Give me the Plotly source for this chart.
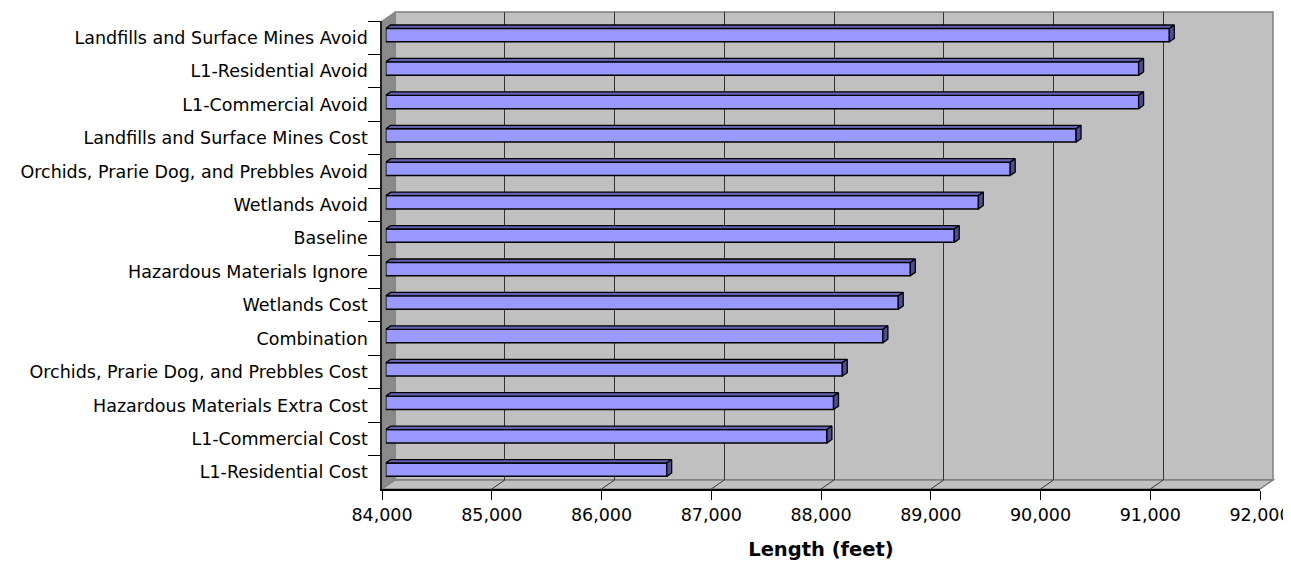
import plotly.graph_objects as go

# ---------------- data ----------------
categories = [
    "Landfills and Surface Mines Avoid",
    "L1-Residential Avoid",
    "L1-Commercial Avoid",
    "Landfills and Surface Mines Cost",
    "Orchids, Prarie Dog, and Prebbles Avoid",
    "Wetlands Avoid",
    "Baseline",
    "Hazardous Materials Ignore",
    "Wetlands Cost",
    "Combination",
    "Orchids, Prarie Dog, and Prebbles Cost",
    "Hazardous Materials Extra Cost",
    "L1-Commercial Cost",
    "L1-Residential Cost",
]
lengths = [91140, 90860, 90860, 90290, 89690, 89400, 89180,
           88780, 88670, 88530, 88160, 88080, 88020, 86560]
x_ticks = [84000, 85000, 86000, 87000, 88000, 89000, 90000, 91000, 92000]
x_title = "Length (feet)"

# ---------------- geometry (pixels) ----------------
PAGE_OFFSET = 8                  # default body margin of the html page
FIG_W, FIG_H = 1291 - PAGE_OFFSET, 562 - PAGE_OFFSET
FRONT_W, FRONT_H = 878, 468      # front face of the 3-D box
DEPTH_X, DEPTH_Y = 13, 9         # 3-D depth offset of the back wall
BOX_W, BOX_H = FRONT_W + DEPTH_X, FRONT_H + DEPTH_Y
M_L, M_T = 382 - PAGE_OFFSET, 12 - PAGE_OFFSET
M_B = FIG_H - M_T - BOX_H
M_R = FIG_W - M_L - BOX_W

XMIN, XMAX = x_ticks[0], x_ticks[-1]
N = len(categories)
BASE = XMIN
px_per_unit = FRONT_W / (XMAX - XMIN)
px_per_cat = FRONT_H / N

BAR_POS = 0.29      # depth position of bar front face (fraction of depth)
BAR_DEPTH = 0.38    # bar depth (fraction of depth)
BAR_W = 0.40

dxb = BAR_DEPTH * DEPTH_X / px_per_unit
dyb = BAR_DEPTH * DEPTH_Y / px_per_cat
dx_wall = DEPTH_X / px_per_unit

FONT = "DejaVu Sans"
WALL = "#C0C0C0"
WALL_SIDE = "#8A8A8A"
EDGE = "#808080"
GRID = "#333333"
BAR_FACE = "#9999FF"
BAR_TOP = "#6262B4"
BAR_SIDE = "#4E4E88"

idx = list(range(N))

fig = go.Figure()

# invisible trace establishing the category axis of the front face
fig.add_trace(go.Scatter(x=lengths, y=categories, mode="markers",
                         marker=dict(opacity=0), hoverinfo="skip",
                         showlegend=False, xaxis="x", yaxis="y"))
# invisible trace for the back wall subplot
fig.add_trace(go.Scatter(x=lengths, y=idx, mode="markers",
                         marker=dict(opacity=0), hoverinfo="skip",
                         showlegend=False, xaxis="x2", yaxis="y2"))

# 3-D top faces and side faces of the bars
top_x, top_y, side_x, side_y = [], [], [], []
for i, v in zip(idx, lengths):
    t, b = i - BAR_W / 2, i + BAR_W / 2
    top_x += [BASE, v, v + dxb, BASE + dxb, BASE, None]
    top_y += [t, t, t - dyb, t - dyb, t, None]
    side_x += [v, v + dxb, v + dxb, v, v, None]
    side_y += [t, t - dyb, b - dyb, b, t, None]

fig.add_trace(go.Scatter(x=top_x, y=top_y, mode="lines", fill="toself",
                         fillcolor=BAR_TOP, line=dict(color="black", width=1.3),
                         hoverinfo="skip", showlegend=False,
                         xaxis="x3", yaxis="y3"))
fig.add_trace(go.Scatter(x=side_x, y=side_y, mode="lines", fill="toself",
                         fillcolor=BAR_SIDE, line=dict(color="black", width=1.3),
                         hoverinfo="skip", showlegend=False,
                         xaxis="x3", yaxis="y3"))
# front faces of the bars
fig.add_trace(go.Bar(y=idx, x=[v - BASE for v in lengths], base=BASE,
                     orientation="h", width=BAR_W,
                     marker=dict(color=BAR_FACE,
                                 line=dict(color="black", width=1.5)),
                     hovertext=categories, showlegend=False,
                     xaxis="x3", yaxis="y3"))

fx = lambda px: px / BOX_W
fy = lambda px: px / BOX_H

shapes = [
    # back wall
    dict(type="rect", xref="paper", yref="paper", layer="below",
         x0=fx(DEPTH_X), x1=1, y0=fy(DEPTH_Y), y1=1,
         fillcolor=WALL, line=dict(color=EDGE, width=1.5)),
    # left wall
    dict(type="path", xref="paper", yref="paper", layer="below",
         path=f"M 0,0 L {fx(DEPTH_X)},{fy(DEPTH_Y)} L {fx(DEPTH_X)},1 "
              f"L 0,{fy(FRONT_H)} Z",
         fillcolor=WALL_SIDE, line=dict(color=EDGE, width=1)),
    # floor
    dict(type="path", xref="paper", yref="paper", layer="below",
         path=f"M 0,0 L {fx(FRONT_W)},0 L 1,{fy(DEPTH_Y)} "
              f"L {fx(DEPTH_X)},{fy(DEPTH_Y)} Z",
         fillcolor=WALL, line=dict(color=EDGE, width=1.5)),
]
# floor grid lines (diagonals from the front ticks to the back gridlines)
for t in x_ticks[1:-1]:
    shapes.append(dict(type="line", xref="x", yref="paper", layer="below",
                       x0=t, x1=t + dx_wall, y0=0, y1=fy(DEPTH_Y),
                       line=dict(color=GRID, width=1)))

fig.update_layout(
    width=FIG_W, height=FIG_H,
    margin=dict(l=M_L, r=M_R, t=M_T, b=M_B, pad=0, autoexpand=False),
    paper_bgcolor="white", plot_bgcolor="rgba(0,0,0,0)",
    font=dict(family=FONT, size=17.5, color="black"),
    showlegend=False,
    shapes=shapes,
    xaxis=dict(domain=[0, fx(FRONT_W)], anchor="y", range=[XMIN, XMAX],
               tickvals=x_ticks, tickformat=",", ticks="outside", ticklen=9,
               tickcolor="black", tickwidth=1, showline=True,
               linecolor="black", linewidth=1.5, showgrid=False,
               zeroline=False, automargin=False, ticklabelstandoff=0,
               title=dict(text=x_title, standoff=19,
                          font=dict(family=FONT, size=19.5, weight="bold"))),
    yaxis=dict(domain=[0, fy(FRONT_H)], anchor="x", type="category",
               range=[N - 0.5, -0.5], tickson="boundaries", ticks="outside",
               ticklen=12, tickcolor="black", tickwidth=1, showline=True,
               linecolor="#222222", linewidth=1.5, showgrid=False,
               zeroline=False, automargin=False, ticklabelstandoff=9),
    xaxis2=dict(domain=[fx(DEPTH_X), 1], anchor="y2", range=[XMIN, XMAX],
                tickvals=x_ticks[1:-1], showticklabels=False, ticks="",
                showgrid=True, gridcolor=GRID, gridwidth=1,
                showline=False, zeroline=False, automargin=False),
    yaxis2=dict(domain=[fy(DEPTH_Y), 1], anchor="x2", range=[N - 0.5, -0.5],
                visible=False, showgrid=False, zeroline=False,
                automargin=False),
    xaxis3=dict(domain=[fx(BAR_POS * DEPTH_X), fx(FRONT_W + BAR_POS * DEPTH_X)],
                anchor="y3", range=[XMIN, XMAX], visible=False,
                showgrid=False, zeroline=False, automargin=False),
    yaxis3=dict(domain=[fy(BAR_POS * DEPTH_Y), fy(FRONT_H + BAR_POS * DEPTH_Y)],
                anchor="x3", range=[N - 0.5, -0.5], visible=False,
                showgrid=False, zeroline=False, automargin=False),
)

fig.write_html("out.html")
